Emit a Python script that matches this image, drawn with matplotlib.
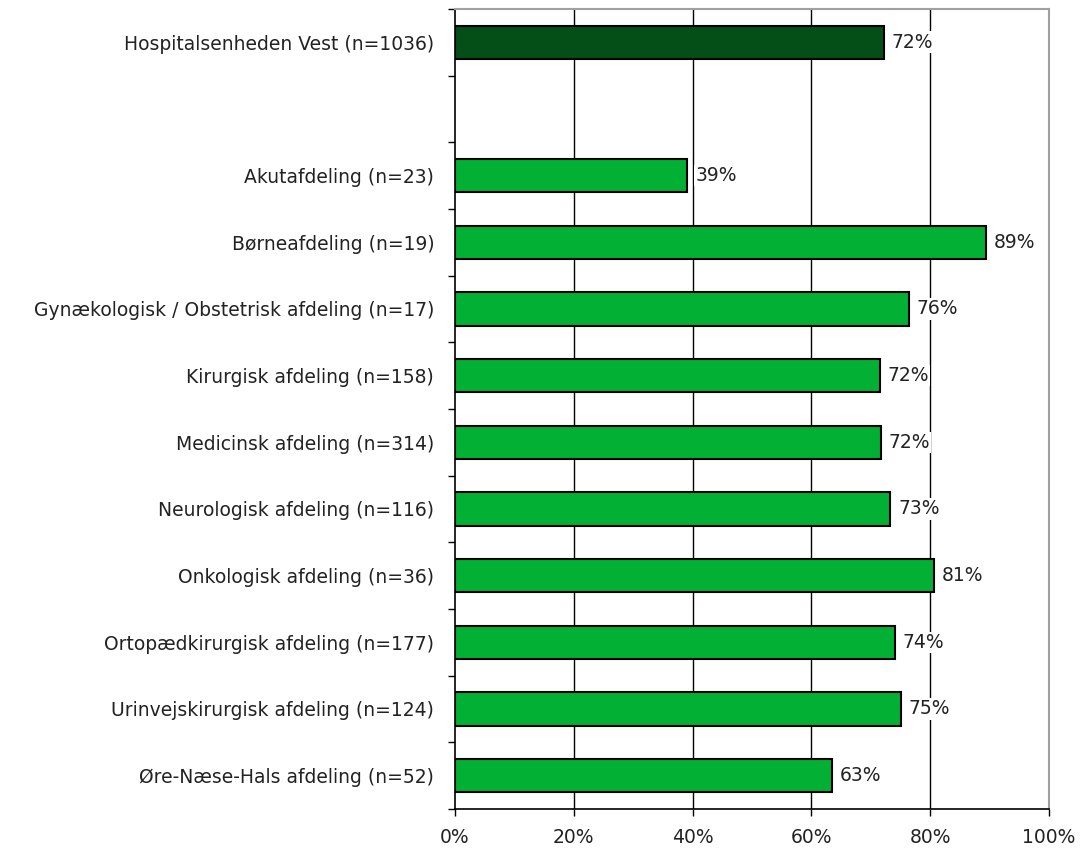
import matplotlib.pyplot as plt
from matplotlib.ticker import FixedLocator

# data
total_label = "Hospitalsenheden Vest (n=1036)"
total_value = 72.2

afdelinger = [
    "Akutafdeling (n=23)",
    "Børneafdeling (n=19)",
    "Gynækologisk / Obstetrisk afdeling (n=17)",
    "Kirurgisk afdeling (n=158)",
    "Medicinsk afdeling (n=314)",
    "Neurologisk afdeling (n=116)",
    "Onkologisk afdeling (n=36)",
    "Ortopædkirurgisk afdeling (n=177)",
    "Urinvejskirurgisk afdeling (n=124)",
    "Øre-Næse-Hals afdeling (n=52)",
]
andele = [39.13, 89.47, 76.47, 71.52, 71.66, 73.28, 80.56, 74.01, 75.00, 63.46]

x_ticks = [0, 20, 40, 60, 80, 100]

plt.rcParams['font.family'] = ['DejaVu Sans']
fs = 13.5

fig = plt.figure(figsize=(10.8, 8.55), dpi=100)
ax = fig.add_axes([0.4213, 0.0538, 0.55, 0.9357])

# hospital on top, one empty slot, then the departments
pos_total = 0
pos_afd = [i + 2 for i in range(len(afdelinger))]

ax.barh(pos_total, total_value, height=0.5, color="#044F17", edgecolor="black", linewidth=1.5, zorder=3)
ax.barh(pos_afd, andele, height=0.5, color="#02B033", edgecolor="black", linewidth=1.5, zorder=3)

for y, v in zip([pos_total] + pos_afd, [total_value] + andele):
    ax.text(v + 1.3, y, f"{round(v)}%", va="center", ha="left", fontsize=fs,
            color="#222222", zorder=4,
            bbox=dict(facecolor="white", edgecolor="none", pad=1.0))

ax.set_xlim(0, 100)
ax.set_ylim(11.5, -0.5)
ax.set_xticks(x_ticks)
ax.set_xticklabels([f"{t}%" for t in x_ticks], fontsize=fs, color="#222222")
ax.set_yticks([pos_total] + pos_afd)
ax.set_yticklabels([total_label] + afdelinger, fontsize=fs, color="#222222")
ax.yaxis.set_minor_locator(FixedLocator([i - 0.5 for i in range(13)]))
ax.tick_params(axis="y", which="major", length=0, pad=15)
ax.tick_params(axis="y", which="minor", length=5, direction="out", width=1)
ax.tick_params(axis="x", length=5, width=1, pad=9)

for g in [20, 40, 60, 80]:
    ax.axvline(g, color="black", linewidth=1, zorder=1)

ax.spines["top"].set_color("#A0A0A0")
ax.spines["right"].set_color("#A0A0A0")
ax.spines["top"].set_linewidth(1.5)
ax.spines["right"].set_linewidth(1.5)
ax.spines["left"].set_linewidth(1.2)
ax.spines["bottom"].set_linewidth(1.2)

fig.savefig("out.png", dpi=100)
